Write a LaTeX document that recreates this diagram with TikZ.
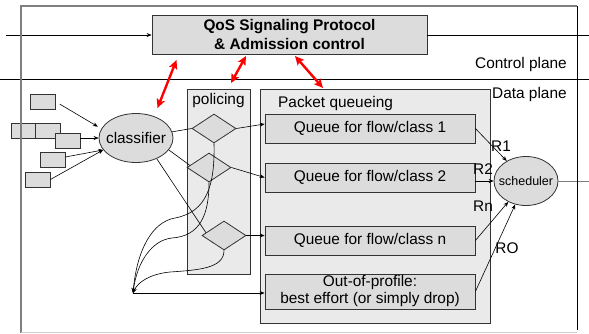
\documentclass[tikz,border=0pt]{standalone}
\usepackage{fontspec}
\setmainfont{Liberation Sans}
\usetikzlibrary{shapes.geometric,arrows.meta,calc}
\definecolor{boxfill}{HTML}{DCDCDC}
\definecolor{contfill}{HTML}{EAEAEA}
\definecolor{edgecol}{HTML}{333333}
\definecolor{framegray}{HTML}{7F7F7F}
\definecolor{redarrow}{HTML}{FF0000}
\pgfdeclarelayer{back}
\pgfdeclarelayer{mid}
\pgfsetlayers{back,mid,main}
\begin{document}
\begin{tikzpicture}[x=1pt,y=-1pt,
  font=\fontsize{15.4}{18}\selectfont,
  box/.style={draw=edgecol, fill=boxfill, line width=0.8pt, inner sep=0pt},
  cont/.style={draw=edgecol, fill=contfill, line width=0.8pt, inner sep=0pt},
  smallbox/.style={box, minimum width=25pt, minimum height=15pt},
  queue/.style={box, minimum width=210pt, minimum height=29pt},
  dia/.style={diamond, draw=edgecol, fill=boxfill, line width=0.8pt, inner sep=0pt, minimum width=44pt, minimum height=29pt},
  oval/.style={ellipse, draw=edgecol, fill=boxfill, line width=0.8pt, inner sep=0pt},
  conn/.style={draw=black, line width=0.6pt, -{Stealth[length=5pt,width=4pt]}},
  thinline/.style={draw=black, line width=0.6pt},
  redarr/.style={draw=redarrow, line width=2.4pt, {Stealth[length=9pt,width=8.5pt,inset=2pt]}-{Stealth[length=9pt,width=8.5pt,inset=2pt]}},
  lbl/.style={inner sep=0pt},
]
\useasboundingbox (0,0) rectangle (589,333);

% containers
\begin{pgfonlayer}{back}
\node[cont, minimum width=63pt, minimum height=185pt] (pol) at (218.5,181.5) {};
\node[cont, minimum width=230pt, minimum height=234pt] (pq) at (375,206) {};
\end{pgfonlayer}

% control box
\node[box, minimum width=275pt, minimum height=39pt, align=center,
      font=\fontsize{15.4}{19}\selectfont\bfseries] (qos) at (289.5,34.5)
      {QoS Signaling Protocol\\\& Admission control};

% labels
\node[lbl, anchor=base] (polt) at (218.5,104.5) {policing};
\node[lbl, anchor=base west] (pqt) at (278,107.5) {Packet queueing};
\node[lbl, anchor=base east] (ctl) at (567,68) {Control plane};
\node[lbl, anchor=base west] (dat) at (492,98) {Data plane};

% queues
\node[queue] (q1) at (370,128.5) {Queue for flow/class 1};
\node[queue] (q2) at (370,177.5) {Queue for flow/class 2};
\node[queue] (qn) at (370,240.5) {Queue for flow/class n};
\node[queue, minimum height=35pt, align=center, font=\fontsize{15.4}{17}\selectfont] (out) at (370,291.5)
  {Out-of-profile:\\best effort (or simply drop)};

% diamonds
\node[dia] (d1) at (214,128.5) {};
\node[dia] (d2) at (209,167.5) {};
\node[dia] (dn) at (224,235.5) {};

% ellipses
\node[oval, minimum width=74pt, minimum height=49pt] (cls) at (136,138) {};
\node[lbl] (clst) at (cls.center) {classifier};
\node[oval, minimum width=64pt, minimum height=49pt] (sch) at (526,181) {};
\node[lbl, font=\fontsize{12.5}{14}\selectfont] (scht) at (sch.center) {scheduler};

% small input boxes
\node[smallbox] (a) at (42.5,101.5) {};
\node[smallbox] (b1) at (23.5,130.5) {};
\node[smallbox] (b2) at (48,130.5) {};
\node[smallbox] (b3) at (67.5,140.5) {};
\node[smallbox] (c) at (52.5,159.5) {};
\node[smallbox] (dd) at (37.5,179.5) {};

% rate labels
\node[lbl] (r1) at (501,146) {R1};
\node[lbl] (r2) at (483,169.5) {R2};
\node[lbl] (rn) at (483,206) {Rn};
\node[lbl] (ro) at (507,248.5) {RO};

% inputs to classifier
\draw[conn, shorten <=5pt, shorten >=4pt] (a.east) -- (cls.165);
\draw[conn] (b3.east |- cls.west) -- (cls.west);
\draw[conn] ($(c.east)+(0,-2.5)$) -- (cls.200);
\draw[conn] (dd.east) -- (cls.200);

% classifier to policers
\draw[thinline] (cls) -- (d1.west);
\begin{pgfonlayer}{mid}
\draw[thinline] (cls.-20) -- ($(d2.center)+(-8,6)$);
\draw[thinline] (cls.-45) -- (dn.south west);
\end{pgfonlayer}

% policers to queues
\draw[conn] (d1.east) -- ($(q1.west)+(0,-4.5)$);
\draw[conn] (d2.east) -- (q2.west);
\draw[conn] (dn.east) -- (dn.east -| qn.west);

% out-of-profile curves
\coordinate (conv) at (133,293);
\draw[conn] (d1.south) .. controls (215,185) and (207,212) .. (175,218)
            .. controls (152,222) and (137,250) .. (conv);
\draw[conn] (d2.south) .. controls (209,215) and (200,236) .. (172,238)
            .. controls (152,240) and (137,262) .. (conv);
\draw[conn] (dn.south) .. controls (224,268) and (200,270) .. (170,272)
            .. controls (150,274) and (138,282) .. (conv);
\draw[conn] (conv) -- (conv -| out.west);

% queues to scheduler
\draw[conn] (q1.east) -- (sch);
\draw[conn] (q2.east |- sch) -- (sch.west);
\draw[conn] (qn.east) -- (sch);
\draw[conn] (out.east) -- (sch);
\coordinate (sout) at (589,181);
\draw[draw=framegray, line width=0.6pt] (sch.east) -- (sch.east -| sout);

% control line
\coordinate (lin) at (6,35);
\coordinate (rout) at (589,35);
\draw[conn] (lin) -- (lin -| qos.west);
\draw[thinline] (qos.east |- rout) -- (rout);

% plane separator
\coordinate (pl) at (0,79);
\coordinate (pr) at (589,79);
\draw[thinline] (pl) -- (pr);

% red signaling arrows
\coordinate (ra1) at (176.5,60);  \coordinate (rb1) at (157.5,108);
\coordinate (ra2) at (246,56);    \coordinate (rb2) at (231,83);
\coordinate (ra3) at (295,56);    \coordinate (rb3) at (323,88);
\draw[redarr] (ra1) -- (rb1);
\draw[redarr] (ra2) -- (rb2);
\draw[redarr] (ra3) -- (rb3);

% frame
\draw[draw=framegray, line width=1.2pt] (21,333) -- (21,6) -- (577,6);
\draw[draw=black, line width=0.6pt] (577,6) -- (577,330);
\draw[draw=black!20, line width=1pt] (21,332) -- (577,332);
\end{tikzpicture}
\end{document}
